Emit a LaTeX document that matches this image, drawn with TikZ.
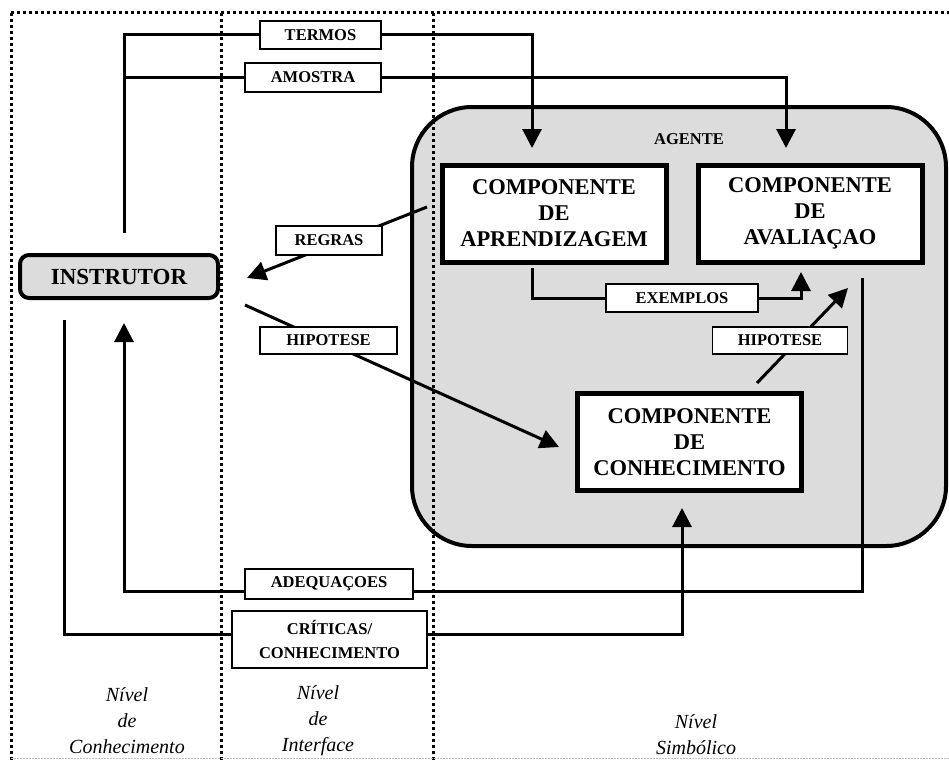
\documentclass[tikz,border=0pt]{standalone}
\usepackage{fontspec}
\setmainfont{Liberation Serif}
\usetikzlibrary{arrows.meta}
\pgfdeclarelayer{back}
\pgfdeclarelayer{wires}
\pgfdeclarelayer{front}
\pgfsetlayers{back,wires,main,front}
\definecolor{panelgray}{RGB}{220,220,220}

\begin{document}
\begin{tikzpicture}[x=1pt,y=-1pt,
  conn/.style={line width=3pt},
  tip/.style={-{Triangle[length=19pt,width=19pt]}},
  tag/.style={draw,fill=white,line width=1.4pt,inner sep=0pt,align=center,
    font=\fontsize{16.5}{24}\selectfont\bfseries},
  comp/.style={draw,fill=white,line width=5pt,inner sep=0pt,
    minimum width=224pt,minimum height=97pt,align=center,
    font=\fontsize{22.5}{26}\selectfont\bfseries},
  level/.style={align=center,font=\fontsize{20}{26}\selectfont\itshape},
  sep/.style={line width=3pt,dash pattern=on 3pt off 3pt}
]
\useasboundingbox (0,0) rectangle (949,760);

% agent panel
\begin{pgfonlayer}{back}
  \node[draw,fill=panelgray,line width=4pt,rounded corners=60pt,
        minimum width=534pt,minimum height=439pt,inner sep=0pt] (agent) at (679,326.5) {};
\end{pgfonlayer}
\node[font=\fontsize{16.5}{20}\selectfont\bfseries] (agtitle) at (689,139) {AGENTE};

% main boxes
\node[draw,fill=panelgray,line width=4pt,rounded corners=9pt,minimum width=198pt,
      minimum height=43pt,inner sep=0pt,font=\fontsize{23}{26}\selectfont\bfseries]
      (instr) at (119,276.5) {INSTRUTOR};
\node[comp] (aprend) at (554,213.5) {COMPONENTE\\DE\\APRENDIZAGEM};
\node[comp] (aval) at (810,213.5) {COMPONENTE\\DE\\AVALIAÇAO};
\node[comp] (conhec) at (689.5,442) {COMPONENTE\\DE\\CONHECIMENTO};

% label boxes
\node[tag,minimum width=121pt,minimum height=28pt] (termos) at (320.5,35) {TERMOS};
\node[tag,minimum width=136pt,minimum height=29pt] (amostra) at (313,77.5) {AMOSTRA};
\node[tag,minimum width=106pt,minimum height=29pt] (regras) at (329,240.5) {REGRAS};
\node[tag,minimum width=137pt,minimum height=27pt] (hipL) at (328.5,340.5) {HIPOTESE};
\node[tag,minimum width=152pt,minimum height=28pt] (exemplos) at (682,298) {EXEMPLOS};
\node[tag,minimum width=135pt,minimum height=27pt] (hipR) at (780,340.5) {HIPOTESE};
\node[tag,minimum width=168pt,minimum height=30pt] (adeq) at (329,584) {ADEQUAÇOES};
\node[tag,minimum width=195pt,minimum height=57pt] (crit) at (329.5,639.5) {CRÍTICAS/\\CONHECIMENTO};

% connector end points
\coordinate (instTop) at (124,233);
\coordinate (aprIn) at (532,148);
\coordinate (avalIn) at (786,148);
\coordinate (regFrom) at (427,207);
\coordinate (regTo) at (247,278);
\coordinate (hipFrom) at (245,305);
\coordinate (hipTo) at (559,447);
\coordinate (exFrom) at (532,268);
\coordinate (exTo) at (801,272);
\coordinate (hrFrom) at (757,383);
\coordinate (hrTo) at (848,288);
\coordinate (adeqFrom) at (862,278);
\coordinate (adeqRow) at (500,591);
\coordinate (instUp) at (124,323);
\coordinate (critFrom) at (64,320);
\coordinate (critRow) at (500,634);
\coordinate (conhIn) at (682,508);

\begin{pgfonlayer}{wires}
  \draw[conn,tip] (instTop) |- (termos) -| (aprIn);
  \draw[conn,tip] (instTop) |- (amostra) -| (avalIn);
  \draw[conn,tip] (regFrom) -- (regTo);
  \draw[conn,tip] (hipFrom) -- (hipTo);
  \draw[conn,tip] (exFrom) |- (exemplos) -| (exTo);
  \draw[conn,tip] (hrFrom) -- (hrTo);
  \draw[conn,tip] (adeqFrom) |- (adeqRow) -| (instUp);
  \draw[conn,tip] (critFrom) |- (critRow) -| (conhIn);
\end{pgfonlayer}

% level separators
\begin{pgfonlayer}{front}
  \draw[sep] (11,13) -- (949,13);
  \draw[sep] (11,13) -- (11,760);
  \draw[sep] (221,13) -- (221,760);
  \draw[sep] (433,13) -- (433,760);
  \draw[line width=0.8pt,gray!50,dash pattern=on 1.5pt off 1.5pt] (11,758.5) -- (949,758.5);
\end{pgfonlayer}

% level names
\node[level] (lvK) at (127,721) {Nível\\de\\Conhecimento};
\node[level] (lvI) at (318,721) {Nível\\de\\Interface};
\node[level] (lvS) at (696,734.5) {Nível\\Simbólico};
\end{tikzpicture}
\end{document}
